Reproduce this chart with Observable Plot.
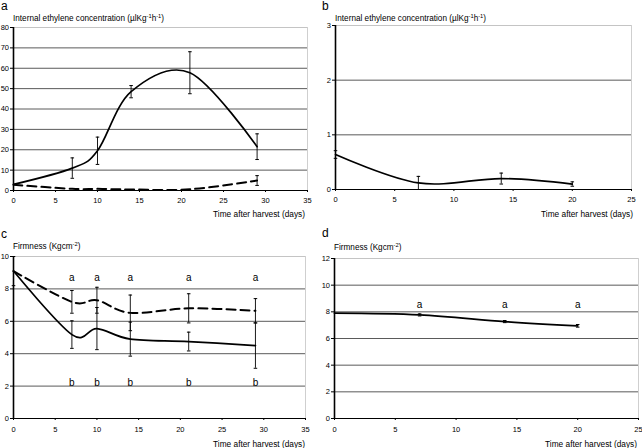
<!DOCTYPE html>
<html><head><meta charset="utf-8">
<script src="https://cdn.jsdelivr.net/npm/d3@7"></script>
<script src="https://cdn.jsdelivr.net/npm/@observablehq/plot@0.6"></script>
<style>
body{margin:0;background:#fff;font-family:"Liberation Sans",Arial,sans-serif;color:#000;}
#root{position:relative;width:642px;height:448px;overflow:hidden;background:#fff;}
.panel{position:absolute;width:321px;height:224px;}
.panel svg{position:absolute;left:0;top:0;}
.lab{position:absolute;font-size:12px;line-height:1.2;}
.title{position:absolute;font-size:8.2px;line-height:1.1;white-space:nowrap;}
.xl{position:absolute;font-size:8.3px;line-height:1.1;white-space:nowrap;}
sup{font-size:0.7em;vertical-align:0.45em;line-height:0;}
</style></head><body><div id="root"></div>
<script>
// ---- Panel a: internal ethylene concentration ----
const aDays = [0, 7, 10, 14, 21, 29];
const aSolid = [3, 11, 19.5, 48.5, 57.8, 21.5];
const aSolidErr = [0, 5, 6.7, 3, 10.3, 6.3];
const aDashed = [2.8, 0.8, 0.8, 0.5, 0.6, 4.9];
const aDashedErr = [0, 0, 0, 0, 0, 2.4];
// ---- Panel b ----
const bDays = [0, 7, 14, 20];
const bSolid = [0.64, 0.12, 0.2, 0.1];
const bSolidErr = [0.07, 0.12, 0.1, 0.04];
// ---- Panel c: firmness ----
const cDays = [0, 7, 10, 14, 21, 29];
const cSolid = [9.1, 5.18, 5.55, 4.9, 4.75, 4.5];
const cSolidErr = [0, 0.85, 1.3, 1.05, 0.58, 1.4];
const cDashed = [9.1, 7.2, 7.3, 6.52, 6.8, 6.65];
const cDashedErr = [0.9, 0.7, 0.8, 1.1, 0.9, 0.75];
const cLetterDays = [7, 10, 14, 21, 29];
const cLettersTop = ["a", "a", "a", "a", "a"];
const cLettersBottom = ["b", "b", "b", "b", "b"];
// ---- Panel d ----
const dDays = [0, 7, 14, 20];
const dSolid = [7.9, 7.77, 7.27, 6.95];
const dSolidErr = [0, 0.08, 0.08, 0.1];
const dLetterDays = [7, 14, 20];
const dLetters = ["a", "a", "a"];

const ethyleneTitle = 'Internal ethylene concentration (µlKg<sup>-1</sup>h<sup>-1</sup>)';
const firmnessTitle = 'Firmness (Kgcm<sup>-2</sup>)';
const xTitle = 'Time after harvest (days)';

const cap = {draw(ctx, size) { const r = Math.sqrt(size) / 2; ctx.moveTo(-r, 0); ctx.lineTo(r, 0); }};
const smooth = d3.curveCatmullRom.alpha(0);

function makePanel(cfg) {
  const {xMax, yMax, yStep, m, series, texts = []} = cfg;
  const marks = [
    Plot.gridY(d3.range(yStep, yMax - yStep / 2, yStep), {stroke: "#5a5a5a", strokeOpacity: 1}),
    Plot.ruleY([yMax], {stroke: "#c4c4c4"}),
    Plot.ruleX([xMax], {stroke: "#cfcfcf"}),
    Plot.axisY(d3.range(0, yMax + yStep / 2, yStep), {tickSize: 3, tickPadding: 1.5, label: null, fontSize: 7.5, tickFormat: d => String(Math.round(d))}),
    Plot.axisX(d3.range(0, xMax + 1, 5), {tickSize: 2, tickPadding: cfg.xPad, label: null, fontSize: 7.5, tickFormat: d => String(d)}),
    Plot.ruleY([0], {stroke: "#000", strokeWidth: 1.2}),
    Plot.ruleX([0], {stroke: "#000", strokeWidth: 1.6})
  ];
  for (const s of series) {
    const rows = s.days.map((d, i) => ({x: d, y: s.vals[i], e: s.err[i]}));
    const eb = rows.filter(r => r.e > 0);
    marks.push(Plot.ruleX(eb, {x: "x", y1: r => r.y - r.e, y2: r => r.y + r.e, stroke: "#000", strokeWidth: 0.9}));
    marks.push(Plot.dot(eb, {x: "x", y: r => r.y - r.e, symbol: cap, r: 2, stroke: "#000", fill: "none", strokeWidth: 1}));
    marks.push(Plot.dot(eb, {x: "x", y: r => r.y + r.e, symbol: cap, r: 2, stroke: "#000", fill: "none", strokeWidth: 1}));
    marks.push(Plot.line(rows, {x: "x", y: "y", curve: smooth, stroke: "#000", strokeWidth: s.dash ? 2 : 1.7, strokeDasharray: s.dash}));
  }
  for (const t of texts) {
    const rows = t.days.map((d, i) => ({x: d, t: t.labels[i]}));
    marks.push(Plot.text(rows, {x: "x", y: () => t.y, text: "t", fontSize: 10, fill: "#000"}));
  }
  return Plot.plot({
    width: 321, height: 224,
    marginLeft: m[3], marginTop: m[0], marginRight: m[1], marginBottom: m[2],
    x: {domain: [0, xMax]}, y: {domain: [0, yMax]},
    style: {fontFamily: '"Liberation Sans", Arial, sans-serif', fontSize: "7.5px", color: "#000", background: "transparent", overflow: "visible"},
    marks
  });
}

const panels = [
  {left: 0, top: 0, letter: "a", letterTop: -1.2, title: ethyleneTitle, titleTop: 14.2, titleLeft: 13, xlRight: 16, xlTop: 209.5,
   cfg: {xMax: 35, yMax: 80, yStep: 10, m: [27, 14, 34, 13], xPad: 5,
     series: [{days: aDays, vals: aSolid, err: aSolidErr}, {days: aDays, vals: aDashed, err: aDashedErr, dash: "9,5"}]}},
  {left: 321, top: 0, letter: "b", letterTop: -1.2, title: ethyleneTitle, titleTop: 14.2, titleLeft: 14, xlRight: 9, xlTop: 209.5,
   cfg: {xMax: 25, yMax: 3, yStep: 1, m: [25, 11, 35, 14], xPad: 5,
     series: [{days: bDays, vals: bSolid, err: bSolidErr}]}},
  {left: 0, top: 224, letter: "c", letterTop: 2.9, title: firmnessTitle, titleTop: 18.2, titleLeft: 13, xlRight: 16, xlTop: 215.5,
   cfg: {xMax: 35, yMax: 10, yStep: 2, m: [32, 16, 30, 13], xPad: 6,
     series: [{days: cDays, vals: cSolid, err: cSolidErr}, {days: cDays, vals: cDashed, err: cDashedErr, dash: "9,5"}],
     texts: [{days: cLetterDays, labels: cLettersTop, y: 8.7}, {days: cLetterDays, labels: cLettersBottom, y: 2.2}]}},
  {left: 321, top: 224, letter: "d", letterTop: 1.9, title: firmnessTitle, titleTop: 19.2, titleLeft: 13, xlRight: 5, xlTop: 215.5,
   cfg: {xMax: 25, yMax: 12, yStep: 2, m: [34, 4, 30, 13], xPad: 6,
     series: [{days: dDays, vals: dSolid, err: dSolidErr}],
     texts: [{days: dLetterDays, labels: dLetters, y: 8.5}]}}
];

const root = document.getElementById("root");
for (const p of panels) {
  const div = document.createElement("div");
  div.className = "panel";
  div.style.left = p.left + "px";
  div.style.top = p.top + "px";
  div.appendChild(makePanel(p.cfg));
  const lab = document.createElement("div");
  lab.className = "lab"; lab.textContent = p.letter;
  lab.style.left = "1px"; lab.style.top = Math.max(0, p.letterTop) + "px";
  if (p.letterTop < 0) lab.style.lineHeight = (1.2 + 2 * p.letterTop / 12) + "";
  div.appendChild(lab);
  const ti = document.createElement("div");
  ti.className = "title"; ti.innerHTML = p.title;
  ti.style.left = p.titleLeft + "px"; ti.style.top = p.titleTop + "px";
  div.appendChild(ti);
  const xl = document.createElement("div");
  xl.className = "xl"; xl.textContent = xTitle;
  xl.style.right = p.xlRight + "px"; xl.style.top = p.xlTop + "px";
  div.appendChild(xl);
  root.appendChild(div);
}
</script></body></html>
